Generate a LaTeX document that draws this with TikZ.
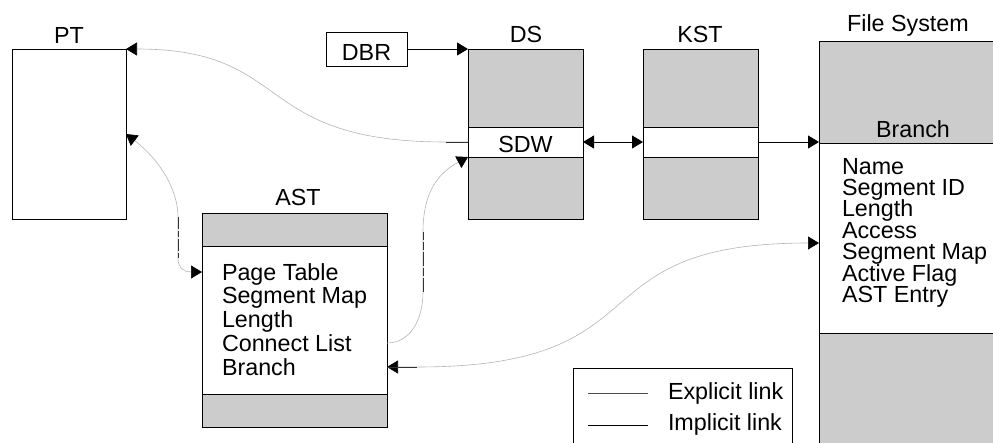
\documentclass[tikz,border=0pt]{standalone}
\usepackage{fontspec}
\setmainfont{Liberation Sans}
\usetikzlibrary{arrows.meta}
\definecolor{boxgray}{RGB}{204,204,204}
\definecolor{linkgray}{RGB}{180,180,180}

\begin{document}
\begin{tikzpicture}[x=1pt,y=-1pt,
  every node/.style={font=\fontsize{23.3}{24}\selectfont, inner sep=0pt, outer sep=0pt},
  >={Triangle[length=11pt,width=13pt,color=black]},
  frame/.style={draw, line width=0.9pt, anchor=north west},
  shaded/.style={frame, fill=boxgray},
  row/.style={frame, fill=white},
  solidlink/.style={draw=black, line width=0.9pt},
  implicitlink/.style={draw=linkgray, line width=0.6pt},
  darkseg/.style={draw=black!80, line width=0.6pt},
  label/.style={anchor=base},
  entry/.style={anchor=base west}]

\useasboundingbox (0,0) rectangle (993,442);

% page table
\node[frame, minimum width=114pt, minimum height=170pt] (pt) at (12,49) {};
\node[label] (ptlabel) at (69,43) {PT};

% descriptor base register
\node[draw, line width=0.9pt, minimum width=81pt, minimum height=34pt,
      text height=22pt, text depth=0pt] (dbr) at (366.5,49) {DBR};

% descriptor segment with its SDW row
\node[shaded, minimum width=115pt, minimum height=170pt] (ds) at (468,49) {};
\node[row, minimum width=115pt, minimum height=30pt,
      text height=21.4pt, text depth=0pt] (sdw) at (468,127) {SDW};
\node[label] (dslabel) at (526,42) {DS};

% known segment table
\node[shaded, minimum width=115pt, minimum height=170pt] (kst) at (643,49) {};
\node[row, minimum width=115pt, minimum height=30pt] (kstrow) at (643,127) {};
\node[label] (kstlabel) at (700,42) {KST};

% file system with the branch entry
\node[shaded, minimum width=188pt, minimum height=430pt] (fs) at (819,41) {};
\node[row, minimum width=188pt, minimum height=190pt] (fsw) at (819,143) {};
\node[label] (fslabel) at (908,31.5) {File System};
\node[label] (fsbranch) at (913,137) {Branch};
\foreach \txt [count=\i] in {Name, Segment ID, Length, Access, Segment Map, Active Flag, AST Entry}
  \node[entry] (fs\i) at (842,{174+(\i-1)*21.4}) {\txt};

% active segment table
\node[shaded, minimum width=185pt, minimum height=214pt] (ast) at (202,213) {};
\node[row, minimum width=185pt, minimum height=148pt] (astw) at (202,246) {};
\node[label] (astlabel) at (298,205) {AST};
\foreach \txt [count=\i] in {Page Table, Segment Map, Length, Connect List, Branch}
  \node[entry] (ast\i) at (222,{280+(\i-1)*23.75}) {\txt};

% legend
\node[draw, line width=0.9pt, anchor=north west, minimum width=219pt, minimum height=90pt] (legend) at (573,368) {};
\coordinate (exa) at (588,393);
\coordinate (exb) at (648,393);
\coordinate (ima) at (588,425);
\coordinate (imb) at (648,425);
\draw[draw=black!70, line width=0.9pt] (exa) -- (exb);
\draw[draw=black, line width=0.9pt] (ima) -- (imb);
\node[entry] (legex) at (668,399) {Explicit link};
\node[entry] (legim) at (668,430) {Implicit link};

% straight links
\draw[solidlink, ->] (dbr.east) -- (ds.north west);
\draw[solidlink, <->] (sdw.east) -- (kstrow.west);
\draw[solidlink, ->] (kstrow.east) -- (kstrow.east -| fsw.west);

% SDW -> page table
\draw[implicitlink, ->] (sdw.west) -- ++(-22,0) coordinate (c4a)
  .. controls (250,142) and (295,49) .. (pt.north east);
\draw[darkseg] (sdw.west) -- (c4a);

% page table <-> AST entry
\draw[implicitlink, <->] (pt.east) .. controls (160,160) and (178,190) .. (178,217) coordinate (c5a)
  -- (178,258) coordinate (c5b)
  .. controls (178,268) and (184,272) .. (astw.west |- 0,272);
\draw[darkseg, dash pattern=on 12pt off 2pt on 6pt off 2pt] (c5a) -- (c5b);

% AST connect list -> SDW
\draw[implicitlink, ->] (astw.east |- 0,343) .. controls (410,343) and (423,320) .. (423,292) coordinate (c6a)
  -- (423,232) coordinate (c6b)
  .. controls (423,190) and (440,172) .. (sdw.south west);
\draw[darkseg, dash pattern=on 14pt off 2pt on 8pt off 2pt] (c6a) -- (c6b);

% branch access <-> AST branch
\draw[implicitlink, <->] (fsw.west |- 0,243) .. controls (570,243) and (670,367) .. (417,367) coordinate (c7a)
  -- (astw.east |- 0,367);
\draw[darkseg] (c7a) -- (astw.east |- 0,367);

\end{tikzpicture}
\end{document}
